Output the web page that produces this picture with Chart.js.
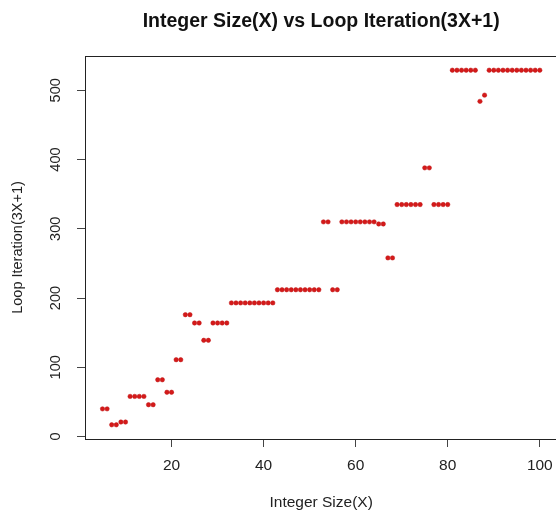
<!DOCTYPE html>
<html lang="en">
<head>
    <meta charset="UTF-8">
    <title>Integer Size(X) vs Loop Iteration(3X+1)</title>
    <script src="https://cdn.jsdelivr.net/npm/chart.js"></script>
    <style>
        html, body { margin: 0; padding: 0; background: #fff; overflow: hidden; }
        .chart-wrap { position: absolute; left: 0; top: 0; width: 560px; height: 513px; }
    </style>
</head>
<body>
    <div class="chart-wrap">
        <canvas id="collatz-chart" width="560" height="513"></canvas>
    </div>
    <script>
        // values
        const xValues = [
            5, 6, 7, 8, 9, 10, 11, 12, 13, 14, 15, 16, 17, 18, 19, 20,
            21, 22, 23, 24, 25, 26, 27, 28, 29, 30, 31, 32, 33, 34, 35, 36,
            37, 38, 39, 40, 41, 42, 43, 44, 45, 46, 47, 48, 49, 50, 51, 52,
            53, 54, 55, 56, 57, 58, 59, 60, 61, 62, 63, 64, 65, 66, 67, 68,
            69, 70, 71, 72, 73, 74, 75, 76, 77, 78, 79, 80, 81, 82, 83, 84,
            85, 86, 87, 88, 89, 90, 91, 92, 93, 94, 95, 96, 97, 98, 99, 100
        ];
        const loopIterations = [
            40, 40, 17, 17, 21, 21, 58, 58, 58, 58, 46, 46, 82, 82, 64, 64,
            111, 111, 176, 176, 164, 164, 139, 139, 164, 164, 164, 164, 193, 193, 193, 193,
            193, 193, 193, 193, 193, 193, 212, 212, 212, 212, 212, 212, 212, 212, 212, 212,
            310, 310, 212, 212, 310, 310, 310, 310, 310, 310, 310, 310, 307, 307, 258, 258,
            335, 335, 335, 335, 335, 335, 388, 388, 335, 335, 335, 335, 529, 529, 529, 529,
            529, 529, 484, 493, 529, 529, 529, 529, 529, 529, 529, 529, 529, 529, 529, 529
        ];
        const xTicks = [20, 40, 60, 80, 100];
        const yTicks = [0, 100, 200, 300, 400, 500];

        const FONT = "'Liberation Sans', Arial, sans-serif";

        // R style box round the plot region
        const plotBox = {
            id: 'plotBox',
            afterDraw(chart) {
                const a = chart.chartArea;
                const ctx = chart.ctx;
                ctx.save();
                ctx.strokeStyle = '#222';
                ctx.lineWidth = 1;
                ctx.strokeRect(Math.round(a.left) + 0.5, Math.round(a.top) + 0.5,
                    Math.round(a.right - a.left), Math.round(a.bottom - a.top));
                ctx.restore();
            }
        };

        const points = xValues.map((x, i) => ({ x: x, y: loopIterations[i] }));

        new Chart(document.getElementById('collatz-chart'), {
            type: 'scatter',
            data: {
                datasets: [{
                    data: points,
                    pointRadius: 2.2,
                    pointHoverRadius: 2.2,
                    pointBackgroundColor: '#d41a1a',
                    pointBorderColor: '#c01515',
                    pointBorderWidth: 0.5
                }]
            },
            options: {
                responsive: false,
                animation: false,
                layout: { padding: 0 },
                plugins: {
                    legend: { display: false },
                    tooltip: { enabled: false },
                    title: {
                        display: true,
                        fullSize: false,
                        text: 'Integer Size(X) vs Loop Iteration(3X+1)',
                        color: '#111',
                        font: { family: FONT, size: 19.5, weight: 'bold' },
                        padding: { top: 9.7, bottom: 22.9 }
                    }
                },
                scales: {
                    x: {
                        type: 'linear',
                        min: 1.2,
                        max: 103.8,
                        afterBuildTicks: s => { s.ticks = xTicks.map(v => ({ value: v })); },
                        afterFit: s => { s.height = 74; s.paddingLeft = 0; s.paddingRight = 0; },
                        grid: { drawOnChartArea: false, drawTicks: true, tickLength: 8, color: '#444' },
                        border: { display: false },
                        ticks: {
                            color: '#222',
                            padding: 9.5,
                            maxRotation: 0,
                            font: { family: FONT, size: 15.5 }
                        },
                        title: {
                            display: true,
                            text: 'Integer Size(X)',
                            color: '#222',
                            font: { family: FONT, size: 15.5 },
                            padding: { top: 0, bottom: 1.4 }
                        }
                    },
                    y: {
                        type: 'linear',
                        min: -3.5,
                        max: 549.5,
                        afterBuildTicks: s => { s.ticks = yTicks.map(v => ({ value: v })); },
                        afterFit: s => { s.width = 85; s.paddingTop = 0; s.paddingBottom = 0; },
                        grid: { drawOnChartArea: false, drawTicks: true, tickLength: 8, color: '#444' },
                        border: { display: false },
                        ticks: {
                            color: '#222',
                            padding: 9,
                            minRotation: 90,
                            maxRotation: 90,
                            crossAlign: 'center',
                            font: { family: FONT, size: 14.5 }
                        },
                        title: {
                            display: true,
                            text: 'Loop Iteration(3X+1)',
                            color: '#222',
                            font: { family: FONT, size: 14.5 },
                            padding: { top: 9.6, bottom: 0 }
                        }
                    }
                }
            },
            plugins: [plotBox]
        });
    </script>
</body>
</html>
